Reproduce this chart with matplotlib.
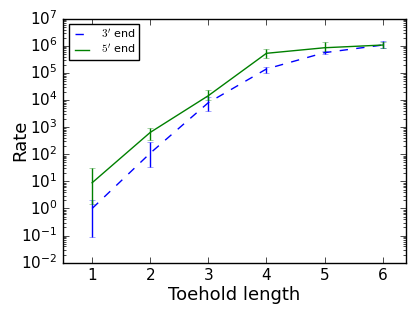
import matplotlib
matplotlib.use("Agg")
import matplotlib.pyplot as plt
from matplotlib.lines import Line2D
import numpy as np

plt.style.use('classic')

toehold = [1, 2, 3, 4, 5, 6]
rate_3 = [1.0, 110, 8000, 1.4e5, 5.6e5, 1.07e6]
rate_3_lo = [0.09, 33, 4000, 1.0e5, 5.0e5, 8.0e5]
rate_3_hi = [2.0, 290, 13000, 1.7e5, 6.2e5, 1.55e6]
rate_5 = [8.9, 640, 14500, 5.3e5, 8.5e5, 1.07e6]
rate_5_lo = [1.5, 350, 10000, 3.6e5, 6.0e5, 8.5e5]
rate_5_hi = [32, 900, 23000, 7.6e5, 1.4e6, 1.35e6]

fig = plt.figure(figsize=(4.15, 3.12), dpi=100, facecolor='white')
ax = fig.add_axes([0.152, 0.158, 0.826, 0.782])

r3 = np.array(rate_3); r5 = np.array(rate_5)
e3 = [r3 - np.array(rate_3_lo), np.array(rate_3_hi) - r3]
e5 = [r5 - np.array(rate_5_lo), np.array(rate_5_hi) - r5]

l3 = ax.errorbar(toehold, rate_3, yerr=e3, color='b', ls='--', lw=1, capsize=2,
                 elinewidth=1)
l5 = ax.errorbar(toehold, rate_5, yerr=e5, color='g', ls='-', lw=1, capsize=2,
                 elinewidth=1)
for l in (l3, l5):
    for c in l[1]:
        c.set_alpha(0.5)

ax.set_yscale('log')
ax.set_ylim(1e-2, 1e7)
ax.set_xlim(0.5, 6.4)
ax.set_xticks(toehold)
ax.tick_params(labelsize=11)
ax.set_xlabel('Toehold length', fontsize=13, labelpad=2)
ax.set_ylabel('Rate', fontsize=13)
ax.yaxis.set_label_coords(-0.1, 0.5)

handles = [Line2D([], [], color='b', ls='--', lw=1),
           Line2D([], [], color='g', ls='-', lw=1)]
ax.legend(handles, ["$3'$ end", "$5'$ end"], loc='upper left', fontsize=8,
          handlelength=1.8, borderpad=0.3, labelspacing=0.25)

fig.savefig('out.png', dpi=100, facecolor='white')
